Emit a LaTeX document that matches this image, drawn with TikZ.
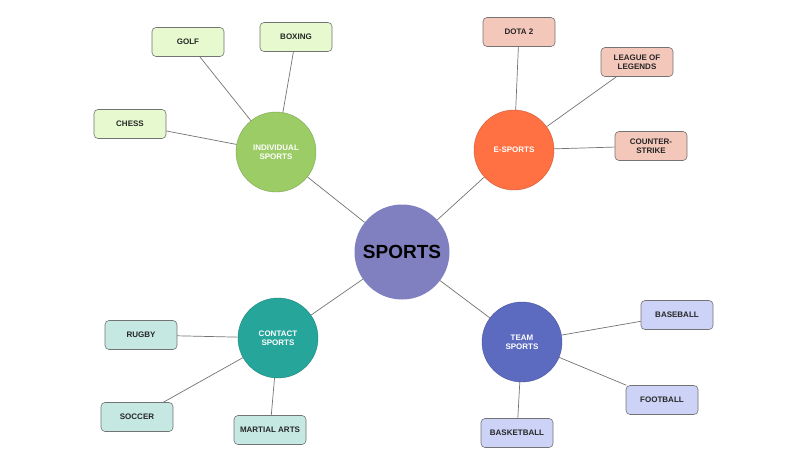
\documentclass[tikz,border=0pt]{standalone}
\usepackage{fontspec}
\setmainfont{Liberation Sans}
\begin{document}
\begin{tikzpicture}[x=1pt,y=-1pt,
  hub/.style={circle,minimum size=80pt,inner sep=0pt,draw=#1!80!black,line width=0.4pt,fill=#1,text=white,font=\bfseries\fontsize{8}{9}\selectfont,align=center},
  leaf/.style={rounded corners=4pt,draw=black!55,line width=0.6pt,fill=#1,minimum width=72pt,minimum height=29pt,font=\bfseries\fontsize{8}{9}\selectfont,align=center,text=black!85},
  link/.style={draw=black!55,line width=0.7pt}]
\definecolor{cg}{HTML}{9CCC65}\definecolor{co}{HTML}{FF7043}
\definecolor{ct}{HTML}{26A69A}\definecolor{cb}{HTML}{5C6BC0}
\definecolor{cc}{HTML}{8080C0}
\definecolor{lg}{HTML}{E6F9CF}\definecolor{lo}{HTML}{F4C7BB}
\definecolor{lt}{HTML}{C5E8E3}\definecolor{lb}{HTML}{CDD3F7}
\useasboundingbox (0,0) rectangle (800,467);
\node[circle,minimum size=95pt,inner sep=0pt,fill=cc,font=\bfseries\fontsize{19}{21}\selectfont] (c) at (402,252) {SPORTS};
\node[hub=cg] (i) at (276,152) {INDIVIDUAL\\SPORTS};
\node[hub=co] (e) at (514,150) {E-SPORTS};
\node[hub=ct] (k) at (278,338) {CONTACT\\SPORTS};
\node[hub=cb] (t) at (522,342) {TEAM\\SPORTS};
\node[leaf=lg] (golf) at (188,42) {GOLF};
\node[leaf=lg] (box) at (296,37) {BOXING};
\node[leaf=lg] (chess) at (130,124) {CHESS};
\node[leaf=lo] (dota) at (519,32) {DOTA 2};
\node[leaf=lo] (lol) at (637,62) {LEAGUE OF\\LEGENDS};
\node[leaf=lo] (cs) at (651,146) {COUNTER-\\STRIKE};
\node[leaf=lt] (rug) at (141,335) {RUGBY};
\node[leaf=lt] (soc) at (137,417) {SOCCER};
\node[leaf=lt] (ma) at (270,430) {MARTIAL ARTS};
\node[leaf=lb] (base) at (677,315) {BASEBALL};
\node[leaf=lb] (foot) at (662,400) {FOOTBALL};
\node[leaf=lb] (bask) at (517,433) {BASKETBALL};
\begin{scope}[on background layer/.try]
\end{scope}
\path[link] (c) -- (i) (c) -- (e) (c) -- (k) (c) -- (t)
 (i) -- (golf) (i) -- (box) (i) -- (chess)
 (e) -- (dota) (e) -- (lol) (e) -- (cs)
 (k) -- (rug) (k) -- (soc) (k) -- (ma)
 (t) -- (base) (t) -- (foot) (t) -- (bask);
\end{tikzpicture}
\end{document}
